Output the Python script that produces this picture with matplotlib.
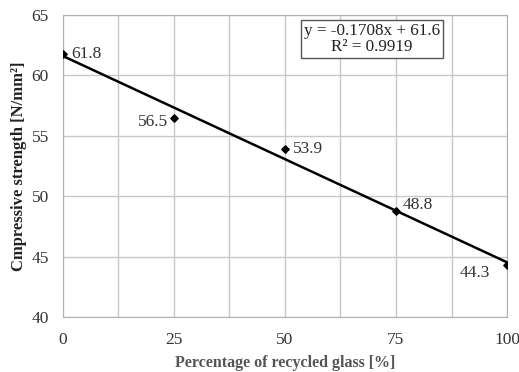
import numpy as np
import matplotlib
matplotlib.use("Agg")
import matplotlib.pyplot as plt
from matplotlib.ticker import MultipleLocator

plt.rcParams["font.family"] = ["Liberation Serif", "DejaVu Serif"]

glass_pct = [0, 25, 50, 75, 100]
strength = [61.8, 56.5, 53.9, 48.8, 44.3]
point_labels = ["61.8", "56.5", "53.9", "48.8", "44.3"]

slope, intercept = np.polyfit(glass_pct, strength, 1)

fig = plt.figure(figsize=(5.19, 3.72), dpi=100)
ax = fig.add_axes([0.121, 0.148, 0.856, 0.812])

xs = np.array([0, 100])
ax.plot(xs, slope * xs + intercept, color="black", lw=1.8, zorder=3)
ax.scatter(glass_pct, strength, marker="D", s=14, color="black", zorder=4)

offsets = [(6, 0, "left", "center"), (-4, -3, "right", "center"),
           (6, 0, "left", "center"), (5, 4, "left", "center"),
           (-12, -6, "right", "center")]
for x, y, t, (dx, dy, ha, va) in zip(glass_pct, strength, point_labels, offsets):
    ax.annotate(t, (x, y), xytext=(dx, dy), textcoords="offset points",
                ha=ha, va=va, fontsize=12.5, color="#333333")

ax.text(69.6, 63.0, "y = -0.1708x + 61.6\nR\u00b2 = 0.9919", ha="center", va="center",
        fontsize=12.3, color="#222222", linespacing=1.0,
        bbox=dict(boxstyle="square,pad=0.2", fc="white", ec="#555555", lw=1))

ax.set_xlim(0, 100)
ax.set_ylim(40, 65)
ax.xaxis.set_major_locator(MultipleLocator(25))
ax.xaxis.set_minor_locator(MultipleLocator(12.5))
ax.yaxis.set_major_locator(MultipleLocator(5))
ax.grid(True, which="both", axis="x", color="#c8c8c8", lw=1)
ax.grid(True, which="major", axis="y", color="#c8c8c8", lw=1)
ax.set_axisbelow(True)
ax.tick_params(which="both", length=0, labelsize=12.5, colors="#333333")
ax.tick_params(axis="x", pad=11)
ax.tick_params(axis="y", pad=10)
for s in ax.spines.values():
    s.set_color("#b0b0b0")

ax.set_xlabel("Percentage of recycled glass [%]", fontsize=11.5, fontweight="bold", color="#555555", labelpad=5)
ax.set_ylabel("Cmpressive strength [N/mm\u00b2]", fontsize=12, fontweight="bold", color="#222222", labelpad=3)

fig.savefig("out.png", dpi=100)
